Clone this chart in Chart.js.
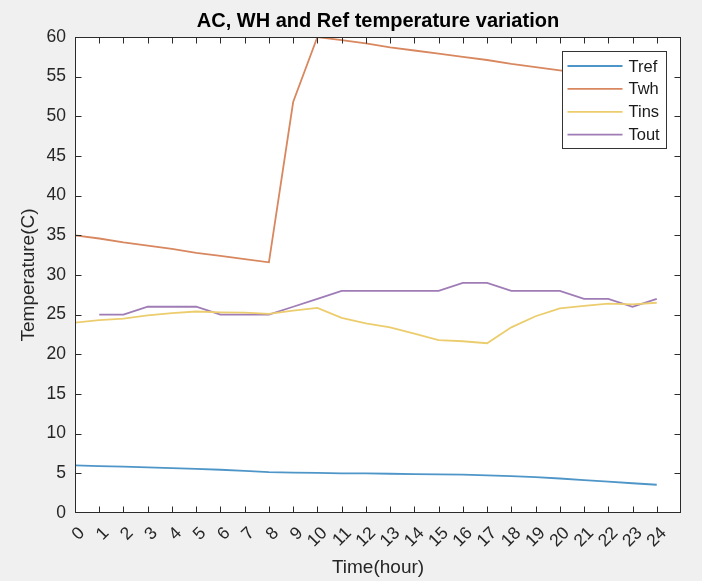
<!DOCTYPE html>
<html><head><meta charset="utf-8">
<script src="https://cdn.jsdelivr.net/npm/chart.js@4/dist/chart.umd.min.js"></script>
<style>html,body{margin:0;padding:0;background:#f0f0f0;}canvas{display:block}</style>
</head><body>
<canvas id="c" width="702" height="581" style="width:702px;height:581px"></canvas>
<script>
// Hours (x categories / tick labels)
const hours = [0,1,2,3,4,5,6,7,8,9,10,11,12,13,14,15,16,17,18,19,20,21,22,23,24];
const toutHours = [1,2,3,4,5,6,7,8,9,10,11,12,13,14,15,16,17,18,19,20,21,22,23,24];
const yTickValues = [0,5,10,15,20,25,30,35,40,45,50,55,60];

// Series values
const tref = [6.0,5.9,5.85,5.75,5.65,5.55,5.45,5.3,5.15,5.1,5.05,5.0,5.0,4.95,4.9,4.88,4.83,4.75,4.66,4.53,4.35,4.15,3.95,3.75,3.56];
const twh  = [35.0,34.6,34.1,33.7,33.3,32.8,32.4,32.0,31.6,51.8,60.0,59.6,59.2,58.7,58.3,57.9,57.5,57.1,56.6,56.2,55.8,55.4,55.0,54.5,54.1];
const tins = [24.0,24.3,24.5,24.9,25.2,25.4,25.3,25.25,25.1,25.5,25.85,24.6,23.9,23.4,22.6,21.8,21.65,21.4,23.4,24.8,25.8,26.1,26.4,26.3,26.5];
const tout = [25,25,26,26,26,25,25,25,26,27,28,28,28,28,28,29,29,28,28,28,27,27,26,27];

const seriesNames = ['Tref','Twh','Tins','Tout'];
const seriesColors = ['#4f96c8','#d8875f','#eccd6e','#a07cb6'];

const FONT = '"Liberation Sans", Arial, Helvetica, sans-serif';

const pairs = (xs, ys) => xs.map((h, i) => ({x: h, y: ys[i]}));

const bgPlugin = {
  id: 'bg',
  beforeDraw(chart) {
    const {ctx, chartArea: a} = chart;
    ctx.save();
    ctx.fillStyle = '#f0f0f0';
    ctx.fillRect(0, 0, chart.width, chart.height);
    ctx.fillStyle = '#ffffff';
    ctx.fillRect(a.left, a.top, a.right - a.left, a.bottom - a.top);
    ctx.restore();
  }
};

const legendPlugin = {
  id: 'boxLegend',
  afterDatasetsDraw(chart) {
    const {ctx, chartArea: a} = chart;
    const x0 = Math.round(a.right) - 118.5, y0 = Math.round(a.top) + 14.5, w = 104, h = 97;
    ctx.save();
    ctx.fillStyle = '#ffffff';
    ctx.fillRect(x0, y0, w, h);
    ctx.strokeStyle = '#333333';
    ctx.lineWidth = 1;
    ctx.strokeRect(x0, y0, w, h);
    ctx.font = '16.5px ' + FONT;
    ctx.textBaseline = 'middle';
    ctx.textAlign = 'left';
    chart.data.datasets.forEach((ds, i) => {
      const yy = y0 + 14.5 + i * 22.9;
      ctx.strokeStyle = ds.borderColor;
      ctx.lineWidth = ds.borderWidth;
      ctx.beginPath();
      ctx.moveTo(x0 + 5, yy);
      ctx.lineTo(x0 + 60, yy);
      ctx.stroke();
      ctx.fillStyle = '#1a1a1a';
      ctx.fillText(ds.label, x0 + 66, yy + 1);
    });
    ctx.restore();
  }
};

const framePlugin = {
  id: 'frame',
  afterDraw(chart) {
    const {ctx, chartArea: a, scales: {x, y}} = chart;
    const L = Math.round(a.left) + 0.5, R = Math.round(a.right) - 0.5;
    const T = Math.round(a.top) + 0.5, B = Math.round(a.bottom) - 0.5;
    const tl = 6;
    ctx.save();
    ctx.strokeStyle = '#2b2b2b';
    ctx.lineWidth = 1;
    ctx.beginPath();
    x.ticks.forEach(t => {
      if (t.value <= x.min || t.value >= x.max) return;
      const px = Math.round(x.getPixelForValue(t.value)) + 0.5;
      ctx.moveTo(px, B); ctx.lineTo(px, B - tl);
      ctx.moveTo(px, T); ctx.lineTo(px, T + tl);
    });
    y.ticks.forEach(t => {
      if (t.value <= y.min || t.value >= y.max) return;
      const py = Math.round(y.getPixelForValue(t.value)) + 0.5;
      ctx.moveTo(L, py); ctx.lineTo(L + tl, py);
      ctx.moveTo(R, py); ctx.lineTo(R - tl, py);
    });
    ctx.stroke();
    ctx.strokeRect(L, T, R - L, B - T);
    ctx.restore();
  }
};

const seriesData = [pairs(hours, tref), pairs(hours, twh), pairs(hours, tins), pairs(toutHours, tout)];

new Chart(document.getElementById('c'), {
  type: 'line',
  data: {
    datasets: seriesNames.map((n, i) => ({
      label: n,
      data: seriesData[i],
      borderColor: seriesColors[i],
      backgroundColor: seriesColors[i],
      borderWidth: 1.8,
      pointRadius: 0,
      tension: 0,
      fill: false
    }))
  },
  options: {
    responsive: false,
    devicePixelRatio: 1,
    animation: false,
    layout: {padding: {left: 0, right: 21, top: 0, bottom: 0}},
    plugins: {
      legend: {display: false},
      tooltip: {enabled: false},
      title: {
        display: true,
        text: 'AC, WH and Ref temperature variation',
        fullSize: false,
        color: '#000000',
        font: {family: FONT, size: 20, weight: 'bold'},
        padding: {top: 9, bottom: 4}
      }
    },
    scales: {
      x: {
        type: 'linear',
        min: 0, max: 25,
        grid: {display: false, drawTicks: false},
        border: {display: false},
        afterBuildTicks(scale) { scale.ticks = hours.map(v => ({value: v})); },
        ticks: {
          stepSize: 1,
          autoSkip: false,
          minRotation: 45, maxRotation: 45,
          padding: 10,
          labelOffset: 7,
          color: '#262626',
          font: {family: FONT, size: 17.5},
          callback: v => String(v)
        },
        title: {
          display: true, text: 'Time(hour)', color: '#262626',
          font: {family: FONT, size: 19}, padding: {top: 0, bottom: 2}
        },
        afterFit(scale) { scale.height = 68; }
      },
      y: {
        min: 0, max: 60,
        grid: {display: false, drawTicks: false},
        border: {display: false},
        afterBuildTicks(scale) { scale.ticks = yTickValues.map(v => ({value: v})); },
        ticks: {
          stepSize: 5,
          padding: 9,
          color: '#262626',
          font: {family: FONT, size: 17.5}
        },
        title: {
          display: true, text: 'Temperature(C)', color: '#262626',
          font: {family: FONT, size: 19}, padding: {top: 17, bottom: 0}
        },
        afterFit(scale) { scale.width = 75; }
      }
    }
  },
  plugins: [bgPlugin, legendPlugin, framePlugin]
});
</script>
</body></html>
